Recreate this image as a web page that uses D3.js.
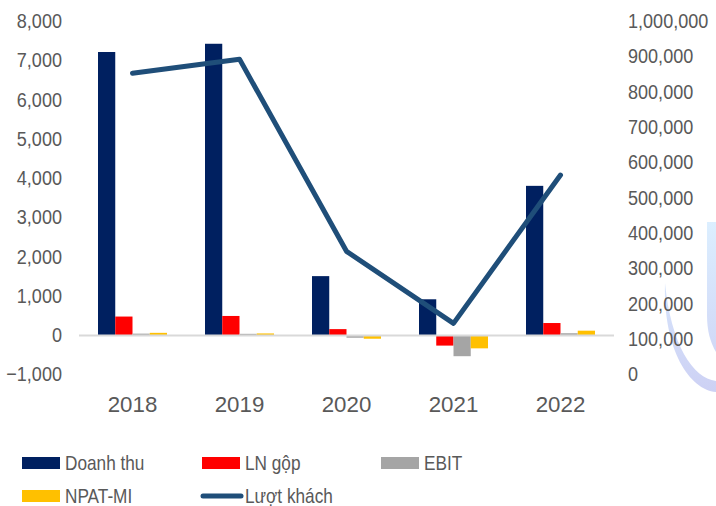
<!DOCTYPE html>
<html>
<head>
<meta charset="utf-8">
<script src="https://cdn.jsdelivr.net/npm/d3@7/dist/d3.min.js"></script>
<style>
  html, body { margin: 0; padding: 0; background: #fff; }
  svg { display: block; font-family: "Liberation Sans", Arial, sans-serif; }
</style>
</head>
<body>
<div id="chart"></div>
<script>
'use strict';

/* ── Data ── */
const years = ['2018', '2019', '2020', '2021', '2022'];
const doanhThu = [7210, 7420, 1500, 910, 3800];
const lnGop = [470, 485, 150, -270, 305];
const ebit = [35, 30, -70, -540, 45];
const npatMi = [55, 40, -95, -340, 110];
const luotKhach = [852000, 892000, 348000, 144000, 564000];

const leftTicks = [-1000, 0, 1000, 2000, 3000, 4000, 5000, 6000, 7000, 8000];
const rightTicks = [0, 100000, 200000, 300000, 400000, 500000, 600000, 700000, 800000, 900000, 1000000];

const barSeries = [
  { name: 'Doanh thu', values: doanhThu, color: '#002060' },
  { name: 'LN gộp', values: lnGop, color: '#ff0000' },
  { name: 'EBIT', values: ebit, color: '#a5a5a5' },
  { name: 'NPAT-MI', values: npatMi, color: '#ffc000' }
];
const lineColor = '#1f4e79';
const textColor = '#595959';

/* ── Setup ── */
const W = 716, H = 506;
const svg = d3.select('#chart').append('svg').attr('width', W).attr('height', H);

const x = d3.scaleBand().domain(years).range([79, 614]);
const xs = d3.scaleBand().domain(barSeries.map(s => s.name)).range([0, 69]);
const yL = d3.scaleLinear().domain([-1000, 8000]).range([374.25, 21]);
const yR = d3.scaleLinear().domain([0, 1000000]).range([374.25, 21]);
const fmt = d3.format(',');

// text squeezed horizontally, like the reference
function label(g, tx, ty, txt, size, sx, anchor) {
  return g.append('text')
    .attr('transform', `translate(${tx},${ty}) scale(${sx},1)`)
    .attr('text-anchor', anchor)
    .attr('fill', textColor)
    .style('font-size', size + 'px')
    .text(txt);
}

/* ── Watermark (faint logo on the right edge) ── */
const grad = svg.append('defs').append('linearGradient')
  .attr('id', 'wmg').attr('gradientUnits', 'userSpaceOnUse')
  .attr('x1', 0).attr('y1', 220).attr('x2', 0).attr('y2', 392);
grad.append('stop').attr('offset', '0%').attr('stop-color', '#dcefff');
grad.append('stop').attr('offset', '100%').attr('stop-color', '#cdd1f4');
const wmG = svg.append('g').attr('fill', 'url(#wmg)');
wmG.append('path')
  .attr('d', 'M665,283 C663,350 690,390 716,392 L716,381 C693,378 671,345 665,283 Z');
wmG.append('path')
  .attr('d', 'M707,222 L716,222 L716,352 C710,342 707,330 707,315 Z');

/* ── Left axis ── */
const axL = svg.append('g');
leftTicks.forEach(t => label(axL, 62, yL(t) + 7, fmt(t), 21, 0.86, 'end'));

/* ── Right axis ── */
const axR = svg.append('g');
rightTicks.forEach(t => label(axR, 628, yR(t) + 7, fmt(t), 21, 0.86, 'start'));

/* ── Bars ── */
const groups = svg.append('g').selectAll('g')
  .data(barSeries)
  .join('g')
  .attr('fill', d => d.color);

groups.selectAll('rect')
  .data(s => s.values.map((v, i) => ({ s: s.name, year: years[i], v })))
  .join('rect')
  .attr('x', d => x(d.year) + (x.bandwidth() - 69) / 2 + xs(d.s))
  .attr('width', xs.bandwidth())
  .attr('y', d => Math.min(yL(d.v), yL(0)))
  .attr('height', d => Math.abs(yL(d.v) - yL(0)));

/* ── Zero line ── */
svg.append('line')
  .attr('x1', 79).attr('x2', 614)
  .attr('y1', yL(0) + 0.5).attr('y2', yL(0) + 0.5)
  .attr('stroke', '#d9d9d9').attr('stroke-width', 2);

/* ── Category labels ── */
const axX = svg.append('g');
years.forEach(yr => label(axX, x(yr) + x.bandwidth() / 2, 412, yr, 23, 0.97, 'middle'));

/* ── Line: Lượt khách ── */
const line = d3.line()
  .x((d, i) => x(years[i]) + x.bandwidth() / 2)
  .y(d => yR(d));
svg.append('path')
  .datum(luotKhach)
  .attr('d', line)
  .attr('fill', 'none')
  .attr('stroke', lineColor)
  .attr('stroke-width', 5)
  .attr('stroke-linecap', 'round')
  .attr('stroke-linejoin', 'round');

/* ── Legend ── */
const legendItems = [
  { name: 'Doanh thu', color: '#002060', type: 'rect', x: 22, y: 463 },
  { name: 'LN gộp', color: '#ff0000', type: 'rect', x: 202, y: 463 },
  { name: 'EBIT', color: '#a5a5a5', type: 'rect', x: 381, y: 463 },
  { name: 'NPAT-MI', color: '#ffc000', type: 'rect', x: 22, y: 496 },
  { name: 'Lượt khách', color: lineColor, type: 'line', x: 202, y: 496 }
];
const leg = svg.append('g');
legendItems.forEach(d => {
  const g = leg.append('g').attr('transform', `translate(${d.x},${d.y})`);
  if (d.type === 'rect') {
    g.append('rect').attr('x', 0).attr('y', -6).attr('width', 38).attr('height', 12)
      .attr('fill', d.color);
  } else {
    g.append('line').attr('x1', 1).attr('x2', 39).attr('y1', 0).attr('y2', 0)
      .attr('stroke', d.color).attr('stroke-width', 5).attr('stroke-linecap', 'round');
  }
  label(g, 43, 7, d.name, 21, 0.82, 'start');
});
</script>
</body>
</html>
